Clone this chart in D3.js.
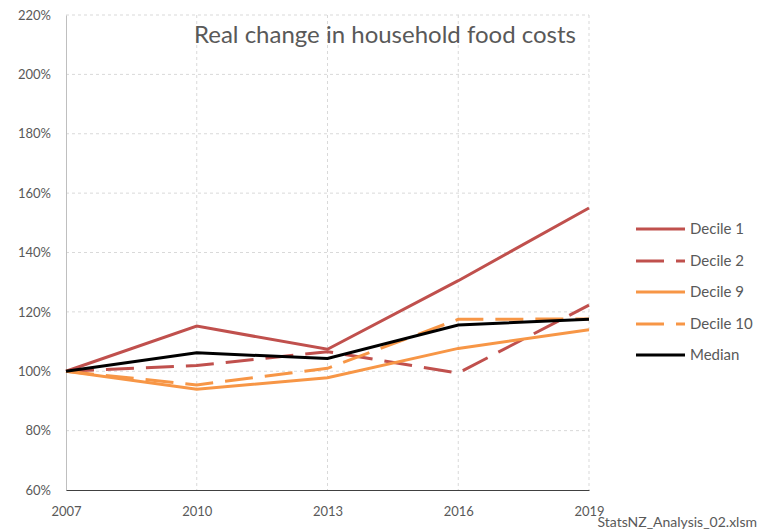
<!DOCTYPE html>
<html><head><meta charset="utf-8">
<script src="https://cdn.jsdelivr.net/npm/d3@7"></script>
<style>body{margin:0;background:#fff;} svg{display:block;}</style>
</head><body>
<svg id="c" width="761" height="532"></svg>
<script>
const years = [2007, 2010, 2013, 2016, 2019];
const decile1 = [100, 115.2, 107.4, 130.5, 155.0];
const decile2 = [100, 101.9, 106.6, 99.4, 122.3];
const decile9 = [100, 93.9, 97.8, 107.7, 114.0];
const decile10 = [100, 95.4, 101.0, 117.5, 117.6];
const median = [100, 106.2, 104.3, 115.6, 117.5];
const yTicks = [60, 80, 100, 120, 140, 160, 180, 200, 220];
const seriesNames = ["Decile 1", "Decile 2", "Decile 9", "Decile 10", "Median"];
const seriesValues = [decile1, decile2, decile9, decile10, median];
const seriesColors = ["#C0504D", "#C0504D", "#F79646", "#F79646", "#000000"];
const seriesDashed = [false, true, false, true, false];

const svg = d3.select("#c");
const font = "Lato, 'Open Sans', sans-serif";
const x = d3.scaleLinear().domain([2007, 2019]).range([66, 589]);
const y = d3.scaleLinear().domain([60, 220]).range([490, 15]);

// grid
const g = svg.append("g");
g.selectAll("line.h").data(yTicks.filter(d => d > 60)).join("line")
  .attr("x1", 66).attr("x2", 589).attr("y1", d => y(d)).attr("y2", d => y(d))
  .attr("stroke", "#d9d9d9").attr("stroke-dasharray", "3,3");
g.selectAll("line.v").data(years.slice(1)).join("line")
  .attr("x1", d => x(d)).attr("x2", d => x(d)).attr("y1", y(220)).attr("y2", y(60))
  .attr("stroke", "#d9d9d9").attr("stroke-dasharray", "3,3");

// y axis
const yAxis = svg.append("g").attr("transform", "translate(66,0)")
  .call(d3.axisLeft(y).tickValues(yTicks).tickSize(0).tickPadding(15).tickFormat(d => d + "%"));
yAxis.select(".domain").attr("stroke", "#bfbfbf");
yAxis.selectAll("text").attr("font-family", font).attr("font-size", 13).attr("fill", "#595959");

// x axis
const xAxis = svg.append("g").attr("transform", "translate(0,490)")
  .call(d3.axisBottom(x).tickValues(years).tickSize(0).tickPadding(17).tickFormat(d3.format("d")));
xAxis.select(".domain").attr("stroke", "#404040").attr("stroke-width", 1.2);
xAxis.selectAll("text").attr("font-family", font).attr("font-size", 13).attr("fill", "#595959");

// lines
const line = d3.line().x((d, i) => x(years[i])).y(d => y(d));
seriesValues.forEach((vals, i) => {
  svg.append("path").datum(vals)
    .attr("d", line).attr("fill", "none")
    .attr("stroke", seriesColors[i]).attr("stroke-width", 3)
    .attr("stroke-dasharray", seriesDashed[i] ? "28,12" : null);
});

// title
svg.append("text").attr("x", 385).attr("y", 43).attr("text-anchor", "middle")
  .attr("font-family", font).attr("font-size", 24).attr("fill", "#595959")
  .text("Real change in household food costs");

// legend
const legY = [229, 261, 292, 324, 355];
seriesNames.forEach((n, i) => {
  svg.append("line").attr("x1", 636).attr("x2", 685).attr("y1", legY[i]).attr("y2", legY[i])
    .attr("stroke", seriesColors[i]).attr("stroke-width", 3)
    .attr("stroke-dasharray", seriesDashed[i] ? "28,12" : null);
  svg.append("text").attr("x", 690).attr("y", legY[i]).attr("dy", "0.35em")
    .attr("font-family", font).attr("font-size", 15).attr("fill", "#595959").text(n);
});

// footer
svg.append("text").attr("x", 757).attr("y", 527).attr("text-anchor", "end")
  .attr("font-family", font).attr("font-size", 14).attr("fill", "#595959")
  .text("StatsNZ_Analysis_02.xlsm");
</script>
</body></html>
